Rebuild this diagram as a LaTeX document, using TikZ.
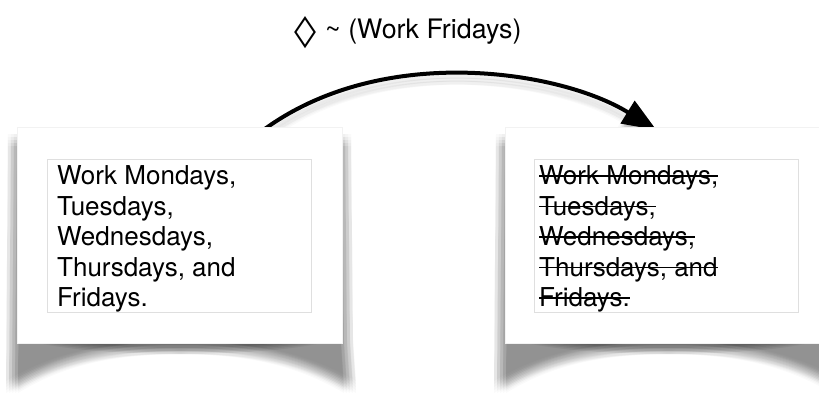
\documentclass[tikz,border=0pt]{standalone}
\usepackage{fontspec}
\usepackage{graphicx}
\setmainfont{TeX Gyre Heros}
\newfontfamily\symfont{DejaVu Sans}
\usetikzlibrary{arrows.meta,backgrounds}

% struck-through line of text
\newsavebox\strkbox
\newcommand\strk[1]{\sbox\strkbox{#1}\rlap{\rule[0.31em]{\wd\strkbox}{1.4pt}}\usebox\strkbox}

\tikzset{
  card/.style={fill=white, draw=gray!10, line width=0.8pt, inner sep=0pt,
    anchor=north west, minimum width=325pt, minimum height=216pt},
  innerbox/.style={fill=white, draw=gray!25, line width=1pt, inner sep=0pt,
    anchor=north west, minimum width=264pt, minimum height=153pt},
  cardtext/.style={font=\fontsize{26}{30.5}\selectfont, align=left,
    inner sep=0pt, anchor=north west},
  labeltext/.style={font=\fontsize{26.8}{30}\selectfont, inner sep=0pt, anchor=base west},
  link/.style={line width=4pt, -{Triangle[length=34pt,width=26pt]}},
}

% soft fill: the same shape laid down many times, slightly offset
\newcommand\softfill[3]{%
  \foreach \dx in {-#2,-#2/2,0,#2/2,#2}{\foreach \dy in {-#2,-#2/2,0,#2/2,#2}{%
    \fill[black, opacity=#1, shift={(\dx,\dy)}] #3;}}}

% curled-page shadow under a card whose top-left corner is (17,127)
\newcommand\cardshadow{%
  \softfill{0.02}{6}{(14,140) -- (345,140) -- (347,343) -- (350,387)
     .. controls (300,358) and (250,348) .. (180,348)
     .. controls (110,348) and (60,358) .. (12,387) -- cycle}%
  \softfill{0.013}{3}{(45,341) -- (315,341) .. controls (255,354) and (105,354) .. (45,341) -- cycle}%
}

\begin{document}
\begin{tikzpicture}[x=1pt,y=-1pt]
\useasboundingbox (0,0) rectangle (819,392);

% the two cards with their framed text
\node[card] (lcard) at (17,127) {};
\node[card] (rcard) at (505,127) {};
\node[innerbox] (lbox) at (47,159) {};
\node[innerbox] (rbox) at (534,159) {};
\node[cardtext] (ltext) at (57,165.5) {Work Mondays,\\Tuesdays,\\Wednesdays,\\Thursdays, and\\Fridays.};
\node[cardtext] (rtext) at (539,165.5) {\strk{Work Mondays,}\\\strk{Tuesdays,}\\\strk{Wednesdays,}\\\strk{Thursdays, and}\\\strk{Fridays.}};

% label over the arrow
\node[labeltext] (label) at (294,38)
  {\raisebox{-3pt}{\resizebox{22pt}{25pt}{\symfont ◊}}\hspace{9pt}\textasciitilde{} (Work Fridays)};

\begin{pgfonlayer}{background}
  \fill[white] (0,0) rectangle (819,392);
  \cardshadow
  \begin{scope}[xshift=488pt]\cardshadow\end{scope}
  % soft shadow of the arrow
  \foreach \dx in {-3,0,3}{\foreach \dy in {-3,0,3}{
    \draw[link, black, opacity=0.02, transform canvas={shift={(\dx pt,\dy pt-7pt)}}]
      ([xshift=83.5pt,yshift=-3pt]lcard.north) .. controls +(120,-88) and +(-95,-59) .. ([xshift=-11.5pt,yshift=-3pt]rcard.north);
  }}
  % the arrow, passing behind both cards
  \draw[link] ([xshift=83.5pt,yshift=-3pt]lcard.north) .. controls +(120,-88) and +(-95,-59) .. ([xshift=-11.5pt,yshift=-3pt]rcard.north);
\end{pgfonlayer}
\end{tikzpicture}
\end{document}
